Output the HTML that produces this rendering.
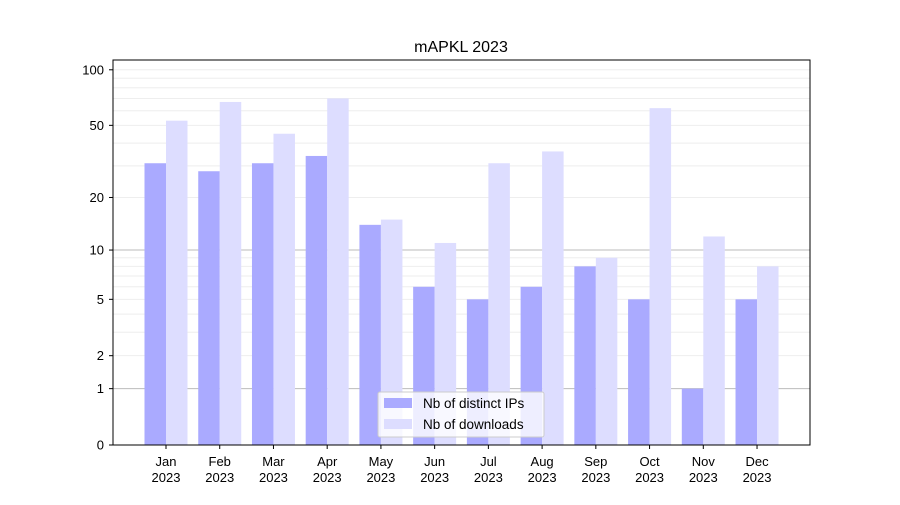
<!DOCTYPE html>
<html><head><meta charset="utf-8">
<style>
body{margin:0;background:#fff;}
svg text{font-family:"Liberation Sans","DejaVu Sans",sans-serif;fill:#000;}
</style></head>
<body>
<svg id="chart" width="900" height="500" xmlns="http://www.w3.org/2000/svg">
<rect width="900" height="500" fill="#fff"/>
<text x="461" y="52" font-size="16" text-anchor="middle">mAPKL 2023</text>
<g id="grid"></g>
<g id="bars"></g>
<rect x="113" y="60" width="697" height="385" fill="none" stroke="#000" stroke-width="1"/>
<g id="axes"></g>
<g>
<rect x="378" y="392" width="166" height="45" fill="#fff" fill-opacity="0.8" stroke="#ccc" rx="2"/>
<rect x="384" y="398" width="28" height="10" fill="#aaaaff"/>
<text x="423" y="408" font-size="13.5">Nb of distinct IPs</text>
<rect x="384" y="419" width="28" height="10" fill="#ddddff"/>
<text x="423" y="429" font-size="13.5">Nb of downloads</text>
</g>
</svg>
<script>
const months = ["Jan","Feb","Mar","Apr","May","Jun","Jul","Aug","Sep","Oct","Nov","Dec"];
const ips = [31,28,31,34,14,6,5,6,8,5,1,5];
const downloads = [53,67,45,70,15,11,31,36,9,62,12,8];
const yTicks = [0,1,2,5,10,20,50,100];
const NS="http://www.w3.org/2000/svg";
function yScale(v){return 445-187.2*Math.log10(1+v);}
function xCenter(i){return 166+i*53.73;}
const grid=document.getElementById('grid'),bars=document.getElementById('bars'),axes=document.getElementById('axes');
function mk(t,a,p){const e=document.createElementNS(NS,t);for(const k in a)e.setAttribute(k,a[k]);p.appendChild(e);return e;}
// grid lines
const gridVals=[];
for(let d of [1,10]) for(let m=1;m<10;m++) gridVals.push(d*m);
gridVals.push(100);
gridVals.forEach(v=>{
  const major=(v===1||v===10);
  const l=mk('line',{x1:113,x2:810,y1:yScale(v),y2:yScale(v),stroke:major?'#bbb':'#eee','stroke-width':1},grid);
  
  
});
const w=21.5;
months.forEach((m,i)=>{
  const c=xCenter(i);
  const b1=mk('rect',{x:c-w,y:yScale(ips[i]),width:w,height:445-yScale(ips[i]),fill:'#aaaaff'},bars);
  
  
  const b2=mk('rect',{x:c,y:yScale(downloads[i]),width:w,height:445-yScale(downloads[i]),fill:'#ddddff'},bars);
  
  
  mk('line',{x1:c,x2:c,y1:445,y2:449,stroke:'#000'},axes);
  const t=mk('text',{x:c,y:466,'font-size':13,'text-anchor':'middle'},axes);
  t.textContent=m;
  
  
  const t2=mk('text',{x:c,y:482,'font-size':13,'text-anchor':'middle'},axes);
  t2.textContent='2023';
  
  
});
yTicks.forEach(v=>{
  const y=yScale(v);
  mk('line',{x1:109,x2:113,y1:y,y2:y,stroke:'#000'},axes);
  const t=mk('text',{x:104,y:y+4.5,'font-size':13,'text-anchor':'end'},axes);
  t.textContent=v;
  
  
});
</script>
</body></html>
